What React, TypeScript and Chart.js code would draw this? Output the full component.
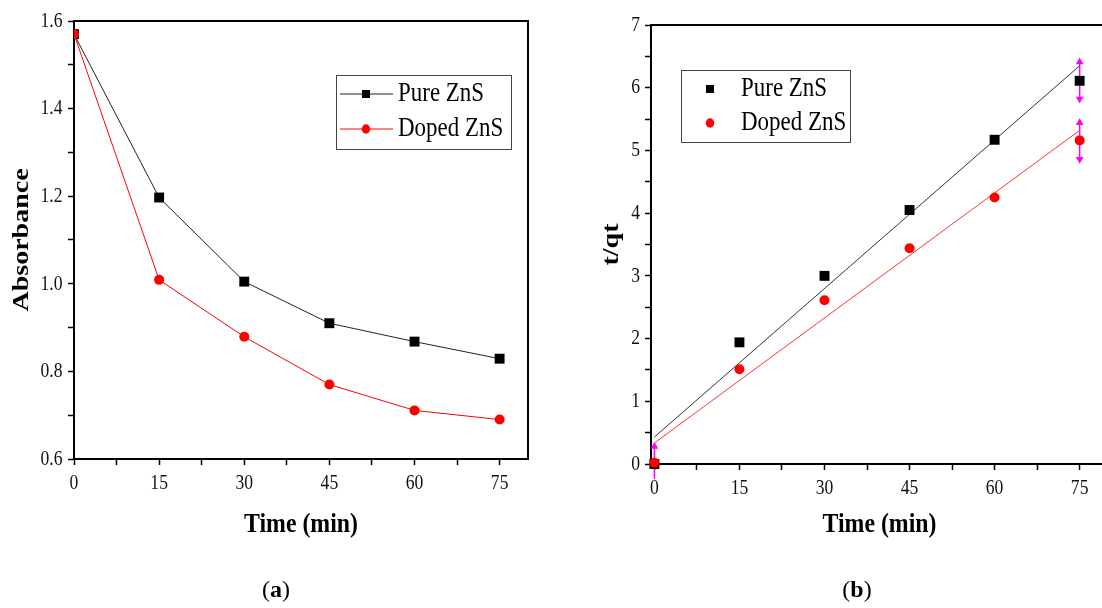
import React, { useEffect, useRef } from 'react';
import { Chart, registerables } from 'chart.js';

Chart.register(...registerables);

// ---------- data ----------
const timeMin = [0, 15, 30, 45, 60, 75];
const absorbancePure = [1.57, 1.197, 1.005, 0.91, 0.868, 0.829];
const absorbanceDoped = [1.57, 1.009, 0.879, 0.77, 0.711, 0.69];
const tqtPure = [0, 1.94, 3.0, 4.05, 5.17, 6.11];
const tqtDoped = [0.02, 1.51, 2.61, 3.44, 4.25, 5.16];
const fitTime = [0, 75];
const fitPure = [0.43, 6.35];
const fitDoped = [0.335, 5.32];
const errorBarTime = [0, 75, 75];
const errorBarHigh = [0.28, 6.41, 5.44];
const errorBarLow = [-0.24, 5.82, 4.86];

const timeTickLabels = ['0', '15', '30', '45', '60', '75'];
const absorbanceTickLabels = ['0.6', '0.8', '1.0', '1.2', '1.4', '1.6'];
const tqtTickLabels = ['0', '1', '2', '3', '4', '5', '6', '7'];
const seriesNames = ['Pure ZnS', 'Doped ZnS'];
const xTitle = 'Time (min)';
const yTitleLeft = 'Absorbance';
const yTitleRight = 't/qt';
const captions = ['a', 'b'];

// ---------- helpers ----------
const FONT = "'Liberation Serif', 'Times New Roman', serif";
const SQ = 0.85;

function withMinor(labels: string[]): number[] {
  const v = labels.map(Number);
  const out: number[] = [];
  v.forEach((x, i) => {
    out.push(x);
    if (i < v.length - 1) out.push((x + v[i + 1]) / 2);
  });
  return out;
}

function hText(ctx: CanvasRenderingContext2D, t: string, x: number, y: number, size: number, bold: boolean, align: CanvasTextAlign, sq = SQ, color = '#111') {
  ctx.save();
  ctx.translate(x, y);
  ctx.scale(sq, 1);
  ctx.font = `${bold ? 'bold ' : ''}${size}px ${FONT}`;
  ctx.fillStyle = color;
  ctx.textAlign = align;
  ctx.textBaseline = 'middle';
  ctx.fillText(t, 0, 0);
  ctx.restore();
}

function vText(ctx: CanvasRenderingContext2D, t: string, x: number, y: number, size: number) {
  ctx.save();
  ctx.translate(x, y);
  ctx.scale(SQ, 1);
  ctx.rotate(-Math.PI / 2);
  ctx.font = `bold ${size}px ${FONT}`;
  ctx.fillStyle = '#000';
  ctx.textAlign = 'center';
  ctx.textBaseline = 'middle';
  ctx.fillText(t, 0, 0);
  ctx.restore();
}

function caption(ctx: CanvasRenderingContext2D, letter: string, cx: number, cy: number) {
  ctx.save();
  ctx.fillStyle = '#000';
  ctx.textBaseline = 'middle';
  ctx.textAlign = 'left';
  const reg = `24px ${FONT}`;
  const bld = `bold 24px ${FONT}`;
  ctx.font = reg;
  const wp = ctx.measureText('(').width;
  const wq = ctx.measureText(')').width;
  ctx.font = bld;
  const wa = ctx.measureText(letter).width;
  let x = cx - (wp + wa + wq) / 2;
  ctx.font = reg;
  ctx.fillText('(', x, cy);
  x += wp;
  ctx.font = bld;
  ctx.fillText(letter, x, cy);
  x += wa;
  ctx.font = reg;
  ctx.fillText(')', x, cy);
  ctx.restore();
}

function frame(ctx: CanvasRenderingContext2D, a: any) {
  ctx.save();
  ctx.strokeStyle = '#000';
  ctx.lineWidth = 2;
  ctx.beginPath();
  ctx.moveTo(a.left, a.top);
  ctx.lineTo(a.right, a.top);
  ctx.lineTo(a.right, a.bottom);
  ctx.stroke();
  ctx.restore();
}

function square(ctx: CanvasRenderingContext2D, x: number, y: number, s: number, color: string) {
  ctx.fillStyle = color;
  ctx.fillRect(x - s / 2, y - s / 2, s, s);
}
function circle(ctx: CanvasRenderingContext2D, x: number, y: number, r: number, color: string) {
  ctx.fillStyle = color;
  ctx.beginPath();
  ctx.ellipse(x, y, r * 0.9, r, 0, 0, Math.PI * 2);
  ctx.fill();
}

const pts = (xs: number[], ys: number[]) => xs.map((x, i) => ({ x, y: ys[i] }));

// ---------- plugins ----------
const leftDecor = {
  id: 'leftDecor',
  afterDraw(chart: any) {
    const { ctx, chartArea: a, scales } = chart;
    frame(ctx, a);
    timeTickLabels.forEach((l) => hText(ctx, l, scales.x.getPixelForValue(Number(l)), a.bottom + 24, 22, false, 'center', 0.8));
    absorbanceTickLabels.forEach((l) => hText(ctx, l, a.left - 11.5, scales.y.getPixelForValue(Number(l)), 22, false, 'right', 0.8));
    hText(ctx, xTitle, (a.left + a.right) / 2, 525, 28, true, 'center', SQ, '#000');
    vText(ctx, yTitleLeft, 21.5, (a.top + a.bottom) / 2, 28);
    ctx.save();
    ctx.strokeStyle = '#444';
    ctx.lineWidth = 1;
    ctx.strokeRect(336.5, 75.5, 175, 74);
    const rows = [94, 129];
    const cols = ['#000', '#ff0000'];
    rows.forEach((y, i) => {
      ctx.strokeStyle = i === 0 ? '#222' : '#ff0000';
      ctx.lineWidth = 1;
      ctx.beginPath();
      ctx.moveTo(340, y);
      ctx.lineTo(393, y);
      ctx.stroke();
      if (i === 0) square(ctx, 366, y, 8, cols[i]);
      else circle(ctx, 366, y, 4.7, cols[i]);
      hText(ctx, seriesNames[i], 398, y, 27, false, 'left', SQ, '#000');
    });
    ctx.restore();
    caption(ctx, captions[0], 276, 591);
  },
};

const rightDecor = {
  id: 'rightDecor',
  afterDraw(chart: any) {
    const { ctx, chartArea: a, scales } = chart;
    frame(ctx, a);
    timeTickLabels.forEach((l) => hText(ctx, l, scales.x.getPixelForValue(Number(l)), a.bottom + 24, 22, false, 'center', 0.8));
    tqtTickLabels.forEach((l) => hText(ctx, l, a.left - 11, scales.y.getPixelForValue(Number(l)), 22, false, 'right', 0.8));
    hText(ctx, xTitle, (a.left + a.right) / 2, 525, 28, true, 'center', SQ, '#000');
    vText(ctx, yTitleRight, 52, (a.top + a.bottom) / 2, 28);
    ctx.save();
    ctx.strokeStyle = '#444';
    ctx.lineWidth = 1;
    ctx.strokeRect(121.5, 70.5, 169, 72);
    const rows = [89, 123];
    rows.forEach((y, i) => {
      if (i === 0) square(ctx, 150, y, 8, '#000');
      else circle(ctx, 150, y, 4.7, '#ff0000');
      hText(ctx, seriesNames[i], 181, y, 27, false, 'left', SQ, '#000');
    });
    ctx.restore();
    caption(ctx, captions[1], 857 - 560, 591);
  },
};

function axisOpts(min: number, max: number, ticks: number[], fit: (s: any) => void) {
  return {
    type: 'linear',
    min,
    max,
    afterBuildTicks: (s: any) => {
      s.ticks = ticks.map((v) => ({ value: v }));
    },
    afterFit: fit,
    ticks: { color: 'rgba(0,0,0,0)', autoSkip: false },
    grid: { drawOnChartArea: false, drawTicks: true, tickLength: 6, tickWidth: 1.5, tickColor: '#000' },
    border: { display: true, color: '#000', width: 2 },
  };
}

export default function App() {
  const leftRef = useRef<HTMLCanvasElement>(null);
  const rightRef = useRef<HTMLCanvasElement>(null);

  useEffect(() => {
    document.body.style.margin = '0';
    const left = new Chart(leftRef.current as HTMLCanvasElement, {
      type: 'scatter',
      data: {
        datasets: [
          {
            label: seriesNames[1],
            data: pts(timeMin, absorbanceDoped),
            showLine: true,
            borderColor: '#ff0000',
            borderWidth: 1,
            pointStyle: 'circle',
            pointRadius: 5,
            pointBackgroundColor: '#ff0000',
            pointBorderWidth: 0,
            order: 0,
          },
          {
            label: seriesNames[0],
            data: pts(timeMin, absorbancePure),
            showLine: true,
            borderColor: '#222',
            borderWidth: 1,
            pointStyle: 'rect',
            pointRadius: 7,
            pointBackgroundColor: '#000',
            pointBorderWidth: 0,
            order: 1,
          },
        ],
      },
      options: {
        responsive: false,
        animation: false,
        devicePixelRatio: 1,
        layout: { padding: { top: 21, right: 32, left: 0, bottom: 0 } },
        plugins: { legend: { display: false }, tooltip: { enabled: false } },
        scales: {
          x: axisOpts(0, 80, withMinor(timeTickLabels), (s: any) => { s.height = 149; }),
          y: axisOpts(0.6, 1.6, withMinor(absorbanceTickLabels), (s: any) => { s.width = 74; }),
        },
      } as any,
      plugins: [leftDecor],
    });

    const errSets = errorBarTime.map((t, i) => ({
      data: [{ x: t, y: errorBarHigh[i] }, { x: t, y: errorBarLow[i] }],
      showLine: true,
      borderColor: '#ff00ff',
      borderWidth: 1.5,
      pointStyle: 'triangle',
      pointRadius: 4.5,
      pointRotation: [0, 180],
      pointBackgroundColor: '#ff00ff',
      pointBorderColor: '#ff00ff',
      pointBorderWidth: 0,
      clip: false,
      order: 5,
    }));

    const right = new Chart(rightRef.current as HTMLCanvasElement, {
      type: 'scatter',
      data: {
        datasets: [
          {
            data: pts(timeMin, tqtDoped),
            pointStyle: 'circle',
            pointRadius: 5,
            pointBackgroundColor: '#ff0000',
            pointBorderWidth: 0,
            clip: false,
            order: 0,
          },
          {
            data: pts(timeMin, tqtPure),
            pointStyle: 'rect',
            pointRadius: 7,
            pointBackgroundColor: '#000',
            pointBorderWidth: 0,
            clip: false,
            order: 1,
          },
          {
            data: pts(fitTime, fitPure),
            showLine: true,
            borderColor: '#333',
            borderWidth: 1,
            pointRadius: 0,
            order: 3,
          },
          {
            data: pts(fitTime, fitDoped),
            showLine: true,
            borderColor: '#ff3333',
            borderWidth: 1,
            pointRadius: 0,
            order: 2,
          },
          ...errSets,
        ],
      },
      options: {
        responsive: false,
        animation: false,
        devicePixelRatio: 1,
        layout: { padding: { top: 25, right: 22, left: 0, bottom: 0 } },
        plugins: { legend: { display: false }, tooltip: { enabled: false } },
        scales: {
          x: axisOpts(-0.6, 80, withMinor(timeTickLabels), (s: any) => { s.height = 144; }),
          y: axisOpts(0, 7, withMinor(tqtTickLabels), (s: any) => { s.width = 91; }),
        },
      } as any,
      plugins: [rightDecor],
    });

    return () => {
      left.destroy();
      right.destroy();
    };
  }, []);

  return (
    <div style={{ position: 'fixed', left: 0, top: 0, width: 1102, height: 608, overflow: 'hidden', background: '#fff' }}>
      <canvas ref={leftRef} width={560} height={608} style={{ position: 'absolute', left: 0, top: 0 }} />
      <canvas ref={rightRef} width={570} height={608} style={{ position: 'absolute', left: 560, top: 0 }} />
    </div>
  );
}
